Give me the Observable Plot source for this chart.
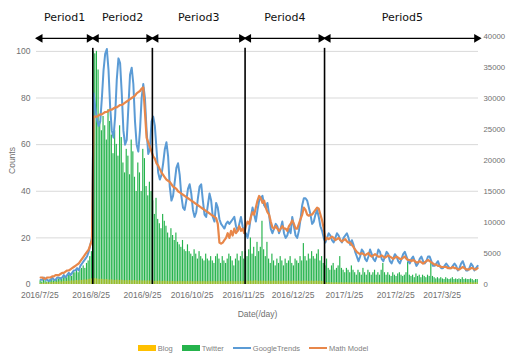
<!DOCTYPE html>
<html><head><meta charset="utf-8">
<script src="https://cdn.jsdelivr.net/npm/d3@7"></script>
<script src="https://cdn.jsdelivr.net/npm/@observablehq/plot@0.6"></script>
<style>
html,body{margin:0;padding:0;background:#fff;}
#wrap{width:506px;height:354px;overflow:hidden;font-family:"Liberation Sans",Arial,sans-serif;}
#legend{display:flex;justify-content:center;align-items:center;gap:9px;height:12px;margin-top:12px;font-size:7.5px;color:#7f7f7f;}
#legend .item{display:flex;align-items:center;gap:2px;}
</style>
</head><body><div id="wrap"><div id="chart"></div><div id="legend"></div></div>
<script>
// ---- data ----
const firstDay = "2016-07-25";
// Twitter daily counts (right axis)
const twitter = [
600,400,800,600,400,600,800,800,600,800,900,900,1100,800,1100,1300,1100,1500,1700,1300,1900,1900,2300,1900,2400,2600,3000,2600,3400,3800,4500,5300,
37600,37200,37600,34600,26300,24800,27100,25600,23300,28200,26300,24100,21100,24800,22600,20700,25600,23700,19600,18000,21800,20700,17700,23300,21400,17300,15000,19600,18000,15000,21800,20300,15800,14300,16500,15000,
13500,11300,13900,10500,9800,9000,11300,10200,9400,8300,7500,9000,7900,7100,8300,6800,6400,6000,7100,5600,5300,6400,5300,4900,4500,5600,4900,4100,5300,4500,4100,3800,4900,4100,3800,4500,3800,3400,4500,4900,4100,3400,4500,3800,3400,4100,4900,4500,3800,3000,4100,4900,3800,4500,5300,4100,
5300,4500,5600,7500,4900,6000,4500,6800,5300,6000,10200,5600,4500,6800,4100,3400,4900,3800,3000,4100,3400,4500,3800,3000,4100,3400,3800,4500,3400,3000,4100,3800,3400,4500,3800,6600,4500,3800,4900,4100,5300,4500,4100,4900,5600,3800,4500,3400,
3000,4100,2600,2300,3000,3400,2300,2600,3000,4500,2600,2300,1900,2600,2300,1900,3000,2300,1900,1500,2300,1900,1500,2600,1900,1500,2300,1900,1500,1900,2300,1500,1900,1500,2300,3400,1900,1500,1900,1500,1300,1900,1500,1300,1700,1900,1500,1300,1500,1900,3600,1500,1300,1500,1100,1700,1300,1500,1100,1500,1300,1100,1500,1300,3800,1300,1100,900,1100,900,1100,900,800,1100,900,800,900,1100,800,900,800,900,800,1100,800,900,800,800,900,800,600,800,800
];
// Blog daily counts (right axis)
const blog = [
200,150,250,200,300,250,300,350,300,400,350,400,450,400,500,450,500,550,500,600,550,600,650,600,700,650,700,750,700,800,850,900,
1000,950,900,850,800,850,800,750,800,750,700,750,700,650,700,700,650,700,650,600,650,600,650,600,600,650,600,550,600,600,550,600,550,600,550,600,
550,500,550,500,550,500,500,550,500,500,450,500,500,450,500,450,500,500,450,500,450,500,450,500,450,450,500,450,500,450,450,500,450,450,500,450,450,500,450,450,500,450,450,500,450,450,500,450,500,450,450,500,450,500,450,500,
500,550,500,550,500,550,600,550,500,550,500,550,500,500,550,500,500,550,500,500,550,500,500,550,500,500,550,500,500,550,500,500,550,500,500,550,500,550,500,500,550,500,500,550,500,550,500,450,
300,250,300,250,300,250,250,300,250,250,300,250,250,300,250,250,300,250,250,300,250,250,300,250,250,300,250,250,300,250,250,300,250,250,300,250,250,300,250,250,300,250,250,300,250,250,300,250,250,300,250,250,300,250,250,300,250,250,300,250,250,300,250,250,300,250,250,300,250,250,300,250,250,300,250,250,300,250,250,300,250,250,300,250,250,300,250,250,300,250,250,300,250
];
// Google Trends index (left axis)
const googleTrends = [
2,2,3,2,2,1.5,2,3,2,2,3,3,2.5,3,4,3,4,5,4,5,6,6,7,6,8,9,10,11,12,14,17,20,
82,76,71,68,70,80,92,99,101,92,76,66,63,72,88,97,95,82,66,60,62,76,90,93,86,70,60,57,66,80,86,80,66,56,58,70,
72,68,58,48,45,47,52,58,61,55,42,36,38,44,50,52,47,38,33,32,36,41,43,39,32,29,31,37,42,43,36,30,29,34,39,36,29,27,35,33,28,26,25,24,26,27,26,27,28,29,25,23,26,29,25,22,
22,20,24,29,33,30,27,32,36,37,38,34,33,35,30,24,22,24,26,25,22,24,27,22,20,21,24,22,29,25,21,20,23,28,34,37,37,36,33,30,26,27,30,32,29,25,23,20,
18,20,22,21,19,18,20,22,21,19,18,20,21,22,20,17,19,17,14,12,10,12,15,14,11,10,12,15,13,11,10,12,15,14,11,10,12,14,13,10,9,11,13,12,10,9,11,13,14,12,10,9,11,12,10,8,9,11,12,10,9,10,12,12,10,8,8,9,10,8,7,7,8,9,8,7,7,8,9,8,6,7,9,10,8,6,6,7,9,8,6,7,8
];
// Math model (left axis)
const mathModel = [
3,3,2.5,2.5,3,3,3,3.5,3.5,4,4,4,4.5,5,5,5.5,6,6,6.5,7,7.5,8,8.5,9,10,11,12,13,14,15,17,19,
72,72,72,72.5,73,73,73.5,74,74,74.5,75,75,75.5,76,76,76.5,77,77,77.5,78,78.5,79,79.5,80,80.5,81,82,82.5,83,84,84.5,74,63,61,59,57,
55,54,52,51,49.5,48,47,46,45,44.5,44,43,42,41.5,41,40,39.5,39,38.5,38,37.5,37,36.5,36,35.5,35,34.5,34,33.5,33,32.5,32,31.5,31,30.5,30,29.5,29,28.5,26,18,17.5,18,19,20,22,20,23,21,24,22,23,25,23,24,22,
25,27,26,29,31,30,33,36,38,37,35,36,33,31,30,27,24.5,24,25,24,23,24,25,24,24,23,25,26,27.5,26,24,24,26,28,30,33,32,30,29.5,30,30,31,32,33,32.5,30,27.5,24,
19,20,19.5,20,20.5,20,19,19.5,20,19,18.5,19,19.5,18.5,18,18,17,16,15,14,13.5,13,13.5,13,12.5,13,13.5,12.5,12,12.5,13,12.5,12,12,12.5,12,11.5,12,12.5,12,11.5,11,11.5,12,11.5,11,11,11.5,12,11,10.5,10.5,10,10.5,10,9.5,9.5,10,9.5,9,9.5,10,10.5,10,9.5,9,8.5,8.5,8,8,7.5,7.5,7.5,7.5,7,7,7,7.5,7,7,6.5,6.5,7,7.5,7,6.5,6.5,6.5,7,7,6.5,6.5,7
];
const periodNames = ["Period1","Period2","Period3","Period4","Period5"];
const periodStarts = ["2016-07-23","2016-08-26","2016-10-01","2016-11-26","2017-01-13"];
const periodEnds = ["2016-08-26","2016-10-01","2016-11-26","2017-01-13","2017-04-17"];
const dividerDates = ["2016-08-26","2016-10-01","2016-11-26","2017-01-13"];
const xTickDates = ["2016-07-25","2016-08-25","2016-09-25","2016-10-25","2016-11-25","2016-12-25","2017-01-25","2017-02-25","2017-03-25"];
const leftTicks = [0,20,40,60,80,100];
const rightTicks = [0,5000,10000,15000,20000,25000,30000,35000,40000];
const seriesNames = ["Blog","Twitter","GoogleTrends","Math Model"];
const seriesColors = ["#ffc000","#25b34c","#5b9bd5","#e8874a"];

// ---- build ----
const k = 100 / 37600; // right-axis count -> left-axis unit
const start = new Date(firstDay);
const rows = twitter.map((t, i) => ({
  date: d3.utcDay.offset(start, i),
  mid: d3.utcHour.offset(d3.utcDay.offset(start, i), 12),
  twitter: t * k, blog: blog[i] * k, gt: googleTrends[i], mm: mathModel[i]
}));
const periods = periodNames.map((n, i) => {
  const a = new Date(periodStarts[i]), b = new Date(periodEnds[i]);
  return {name: n, a, b, m: new Date((+a + +b) / 2)};
});
const arrowY = 105.6, labelY = 114.5, dividerTop = 101.3;

const chart = Plot.plot({
  width: 506, height: 330,
  marginLeft: 36, marginRight: 28, marginTop: 36, marginBottom: 46,
  style: {fontFamily: "'Liberation Sans', Arial, sans-serif", fontSize: "8.5px", color: "#7f7f7f", background: "#fff", overflow: "visible"},
  x: {type: "utc", domain: [new Date("2016-07-23"), new Date("2017-04-16")]},
  y: {domain: [0, 40000 * k]},
  marks: [
    Plot.ruleY(leftTicks.filter(d => d > 0), {stroke: "#d9d9d9", strokeWidth: 1}),
    Plot.rectY(rows, {x1: "date", x2: d => d3.utcDay.offset(d.date, 1), y: "twitter", fill: seriesColors[1], insetLeft: 0.25, insetRight: 0.25}),
    Plot.rectY(rows, {x1: "date", x2: d => d3.utcDay.offset(d.date, 1), y: "blog", fill: seriesColors[0], fillOpacity: 0.55, insetLeft: 0.25, insetRight: 0.25}),
    Plot.line(rows, {x: "mid", y: "gt", stroke: seriesColors[2], strokeWidth: 2}),
    Plot.line(rows, {x: "mid", y: "mm", stroke: seriesColors[3], strokeWidth: 2.2}),
    Plot.ruleX(dividerDates.map(d => new Date(d)), {y1: 0, y2: dividerTop, stroke: "#000", strokeWidth: 1.6}),
    Plot.link(periods, {x1: "a", x2: "b", y1: arrowY, y2: arrowY, stroke: "#000", strokeWidth: 1.3, insetLeft: 2, insetRight: 2}),
    Plot.dot(periods, {x: "a", y: arrowY, symbol: "triangle", rotate: -90, r: 3.2, fill: "#000", dx: 3.5}),
    Plot.dot(periods, {x: "b", y: arrowY, symbol: "triangle", rotate: 90, r: 3.2, fill: "#000", dx: -3.5}),
    Plot.text(periods, {x: "m", y: labelY, text: "name", fill: "#111", fontSize: 11, fontWeight: "normal", fontFamily: "'DejaVu Sans', sans-serif"}),
    Plot.axisX(xTickDates.map(d => new Date(d)), {tickSize: 0, tickPadding: 7, tickFormat: "%Y/%-m/%-d", label: "Date(/day)", labelAnchor: "center", labelArrow: "none", labelOffset: 32, fill: "#707070"}),
    Plot.axisY(leftTicks, {anchor: "left", tickSize: 0, tickPadding: 6, label: "Counts", labelAnchor: "center", labelArrow: "none", labelOffset: 28, fill: "#707070"}),
    Plot.axisY(rightTicks.map(v => v * k), {anchor: "right", tickSize: 0, tickPadding: 5, fontSize: 7.8, tickFormat: d => String(Math.round(d / k)), label: null, fill: "#707070"})
  ]
});
document.getElementById("chart").append(chart);

const legend = document.getElementById("legend");
seriesNames.forEach((n, i) => {
  const item = document.createElement("span");
  item.className = "item";
  const sw = document.createElement("span");
  const isLine = i >= 2;
  sw.style.cssText = `display:inline-block;width:18px;height:${isLine ? 2 : 6}px;background:${seriesColors[i]}`;
  item.append(sw, document.createTextNode(n));
  legend.append(item);
});
</script>
</body></html>
